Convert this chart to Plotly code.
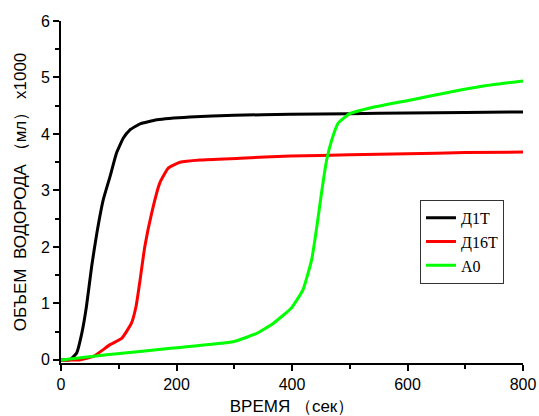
import plotly.graph_objects as go

t_d1t = [0, 15, 27, 36, 44, 53, 62, 73, 85, 96, 108, 119, 137, 166, 223, 300, 397, 500, 600, 700, 800]
v_d1t = [0, 0.0, 0.12, 0.47, 0.94, 1.65, 2.24, 2.83, 3.25, 3.66, 3.93, 4.07, 4.18, 4.25, 4.30, 4.33, 4.35, 4.36, 4.37, 4.38, 4.39]

t_d16t = [0, 33, 56, 85, 105, 122, 130, 137, 145, 157, 171, 186, 206, 241, 310, 397, 500, 600, 700, 800]
v_d16t = [0, 0.0, 0.06, 0.27, 0.38, 0.65, 0.95, 1.42, 2.0, 2.6, 3.13, 3.40, 3.50, 3.54, 3.57, 3.61, 3.63, 3.65, 3.67, 3.68]

t_a0 = [0, 79, 194, 298, 339, 368, 399, 419, 434, 443, 451, 460, 469, 480, 500, 535, 584, 610, 668, 726, 800]
v_a0 = [0, 0.09, 0.21, 0.32, 0.47, 0.65, 0.92, 1.24, 1.77, 2.36, 2.95, 3.54, 3.90, 4.19, 4.36, 4.46, 4.56, 4.61, 4.73, 4.84, 4.94]

series = [
    ("Д1Т", t_d1t, v_d1t, "#000000"),
    ("Д16Т", t_d16t, v_d16t, "#ff0000"),
    ("А0", t_a0, v_a0, "#00ff00"),
]

fig = go.Figure()
for name, t, v, c in series:
    fig.add_trace(go.Scatter(x=t, y=v, name=name, mode="lines",
                             line=dict(color=c, width=3, shape="spline", smoothing=0.4)))

axis_common = dict(
    showgrid=False, zeroline=False, showline=True, linecolor="black", linewidth=2,
    ticks="outside", ticklen=6, tickwidth=2, tickcolor="black", automargin=False,
    tickfont=dict(family="Liberation Sans, Arial", size=16, color="black"),
)

fig.update_xaxes(range=[0, 800], tickmode="linear", tick0=0, dtick=200,
                 minor=dict(ticks="outside", ticklen=4, tickwidth=2, tickcolor="black", dtick=100),
                 title=dict(text="ВРЕМЯ （сек）", font=dict(family="Liberation Sans, Arial", size=17, color="black"), standoff=8),
                 **axis_common)
fig.update_yaxes(range=[-0.055, 6], tickmode="linear", tick0=0, dtick=1,
                 minor=dict(ticks="outside", ticklen=4, tickwidth=2, tickcolor="black", dtick=0.5),
                 title=dict(text="ОБЪЕМ  ВОДОРОДА （мл） x1000", font=dict(family="Liberation Sans, Arial", size=17, color="black"), standoff=10),
                 **axis_common)

fig.update_layout(
    width=539, height=416,
    margin=dict(l=61, r=16, t=21, b=53),
    paper_bgcolor="white", plot_bgcolor="white",
    showlegend=True,
    legend=dict(x=0.777, y=0.477, xanchor="left", yanchor="top",
                bordercolor="#333333", borderwidth=1, bgcolor="white",
                font=dict(family="Liberation Serif, Times New Roman", size=16, color="black"),
                tracegroupgap=0, itemwidth=30),
)

fig.write_html("out.html")
